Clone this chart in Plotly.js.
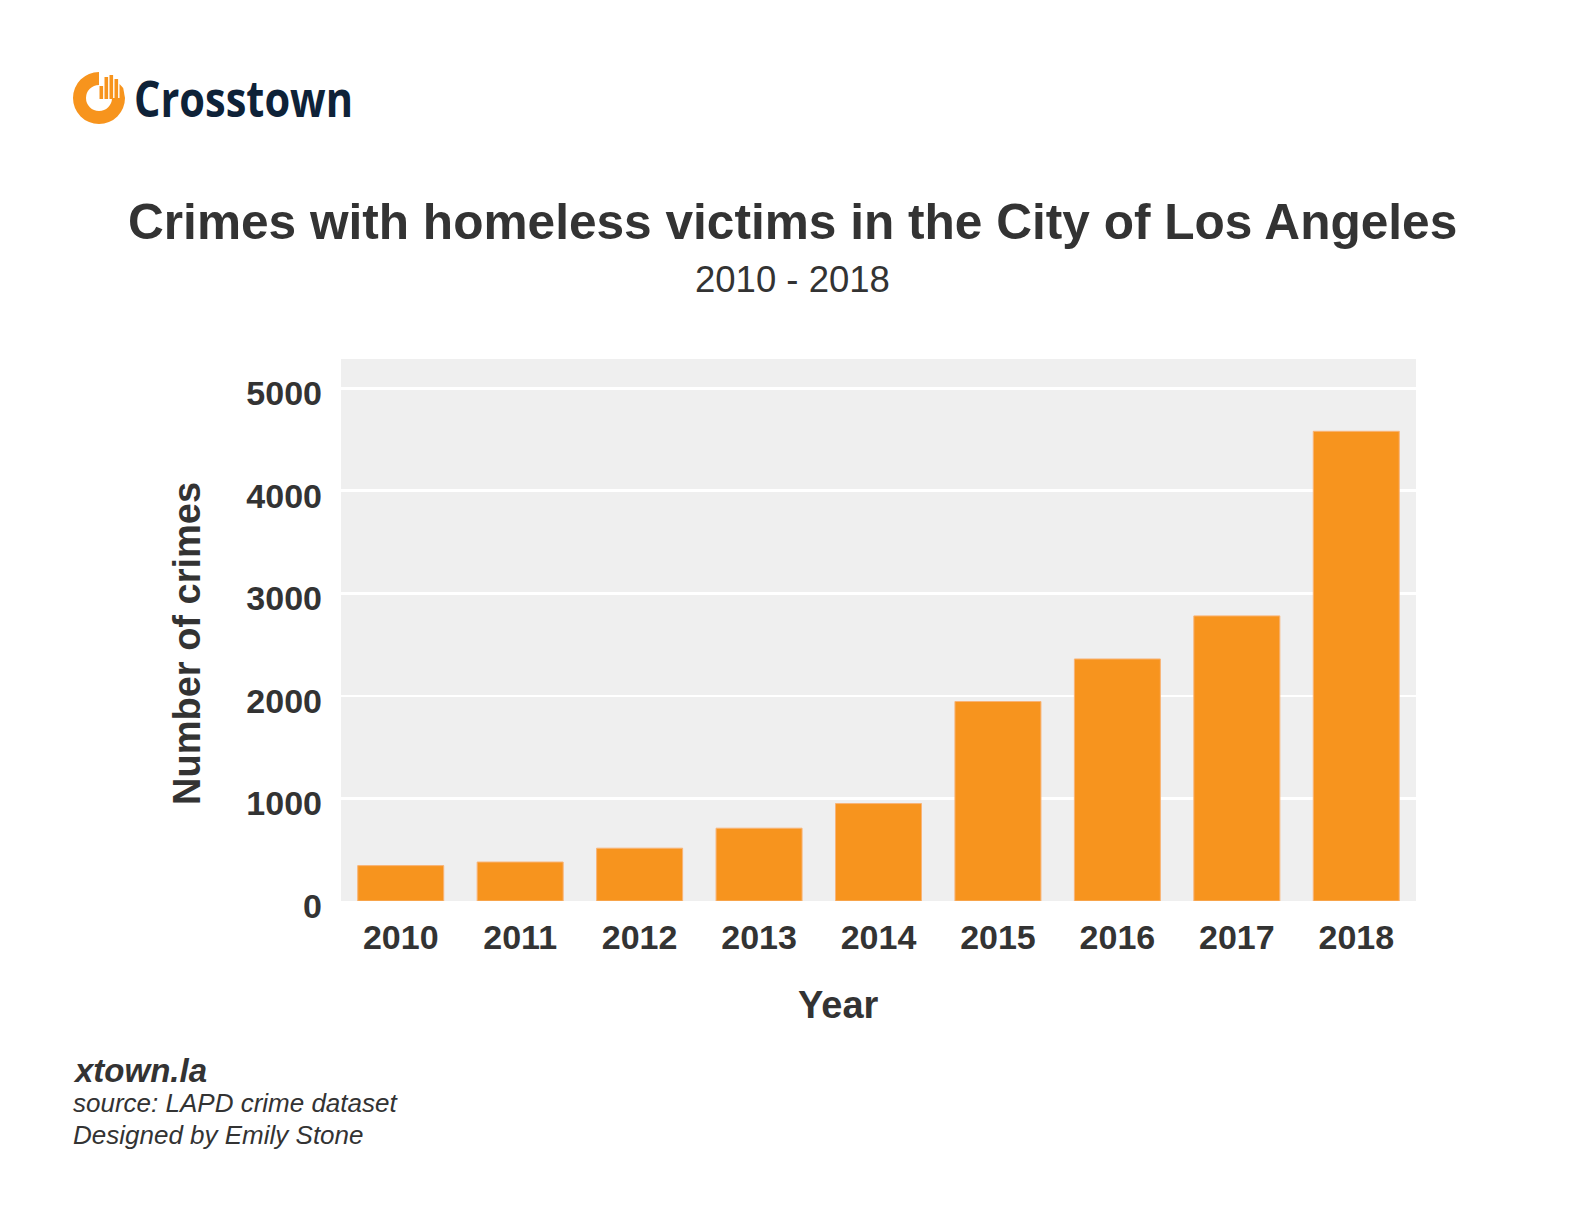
<!DOCTYPE html>
<html>
<head>
<meta charset="utf-8">
<script src="https://cdn.plot.ly/plotly-3.0.1.min.js"></script>
<style>
  html, body { margin: 0; padding: 0; background: #fff; }
  #wrap { position: relative; width: 1584px; height: 1229px; }
  #chart { position: absolute; left: 0; top: 0; width: 1584px; height: 1229px; }
  #logo { position: absolute; left: 0; top: 0; }
</style>
</head>
<body>
<div id="wrap">
  <div id="chart"></div>
  <svg id="logo" width="400" height="160" viewBox="0 0 400 160">
    <path d="M 99 72 A 26 26 0 1 0 125 98 L 112 98 A 13 13 0 1 1 99 85 Z" fill="#f7941d"/>
    <circle cx="97" cy="99" r="8" fill="#fff"/>
    <rect x="99.5" y="86" width="3.6" height="13" fill="#f7941d"/>
    <rect x="104.5" y="77" width="3.6" height="22" fill="#f7941d"/>
    <rect x="109.5" y="75" width="3.6" height="24" fill="#f7941d"/>
    <rect x="114.5" y="79" width="3.6" height="20" fill="#f7941d"/>
    <path d="M 119.5 84 L 123.2 88 L 125 98 L 119.5 98 Z" fill="#f7941d"/>
    <text x="134" y="117" font-family="Open Sans, sans-serif" font-weight="700" font-size="50" fill="#0e2238" textLength="219" lengthAdjust="spacingAndGlyphs">Crosstown</text>
  </svg>
</div>
<script>
// ---- data ----
const years = ["2010", "2011", "2012", "2013", "2014", "2015", "2016", "2017", "2018"];
const crimes = [345, 380, 515, 710, 950, 1945, 2360, 2780, 4580];
const yTicks = [0, 1000, 2000, 3000, 4000, 5000];

const titleText = "Crimes with homeless victims in the City of Los Angeles";
const subtitleText = "2010 - 2018";
const xTitle = "Year";
const yTitle = "Number of crimes";
const footer = ["xtown.la", "source: LAPD crime dataset", "Designed by Emily Stone"];

// ---- layout geometry ----
const W = 1584, H = 1229;
const m = { l: 341, r: 168, t: 359, b: 328 };
const pw = W - m.l - m.r, ph = H - m.t - m.b;
const px = x => (x - m.l) / pw;
const py = y => (H - m.b - y) / ph;

const font = "Liberation Sans, Arial, Helvetica, sans-serif";
const txt = "#333333";

const trace = {
  type: "bar",
  x: years,
  y: crimes,
  marker: { color: "#f7941e", line: { color: "#f9b477", width: 1 } },
  hoverinfo: "x+y"
};

const layout = {
  width: W, height: H,
  margin: m,
  paper_bgcolor: "#ffffff",
  plot_bgcolor: "#efefef",
  bargap: 0.28,
  showlegend: false,
  font: { family: font, color: txt },
  xaxis: {
    type: "category",
    showgrid: false, zeroline: false, showline: false,
    ticks: "",
    tickfont: { family: font, size: 34, color: txt, weight: "bold" },
    ticklabelstandoff: 13
  },
  yaxis: {
    range: [0, 5285],
    tickvals: yTicks,
    ticktext: yTicks.map(String),
    showgrid: true, gridcolor: "#ffffff", gridwidth: 2.7,
    zeroline: false, showline: false,
    ticks: "",
    tickfont: { family: font, size: 34, color: txt, weight: "bold" },
    ticklabelstandoff: 18,
    ticklabelshift: 5
  },
  annotations: [
    { xref: "paper", yref: "paper", x: px(792), y: py(222), xanchor: "center", yanchor: "middle",
      text: "<b>" + titleText + "</b>", showarrow: false, font: { family: font, size: 49.6, color: txt } },
    { xref: "paper", yref: "paper", x: px(792), y: py(279), xanchor: "center", yanchor: "middle",
      text: subtitleText, showarrow: false, font: { family: font, size: 36.5, color: txt } },
    { xref: "paper", yref: "paper", x: px(838), y: py(1005), xanchor: "center", yanchor: "middle",
      text: "<b>" + xTitle + "</b>", showarrow: false, font: { family: font, size: 38, color: txt } },
    { xref: "paper", yref: "paper", x: px(187), y: py(644), xanchor: "center", yanchor: "middle", textangle: -90,
      text: "<b>" + yTitle + "</b>", showarrow: false, font: { family: font, size: 38, color: txt } },
    { xref: "paper", yref: "paper", x: px(71), y: py(1070), xanchor: "left", yanchor: "middle",
      text: "<b><i>" + footer[0] + "</i></b>", showarrow: false, font: { family: font, size: 33, color: txt } },
    { xref: "paper", yref: "paper", x: px(71), y: py(1103), xanchor: "left", yanchor: "middle",
      text: "<i>" + footer[1] + "</i>", showarrow: false, font: { family: font, size: 26, color: txt } },
    { xref: "paper", yref: "paper", x: px(71), y: py(1135), xanchor: "left", yanchor: "middle",
      text: "<i>" + footer[2] + "</i>", showarrow: false, font: { family: font, size: 26, color: txt } }
  ]
};

Plotly.newPlot("chart", [trace], layout, { displayModeBar: false, staticPlot: true });
</script>
</body>
</html>
